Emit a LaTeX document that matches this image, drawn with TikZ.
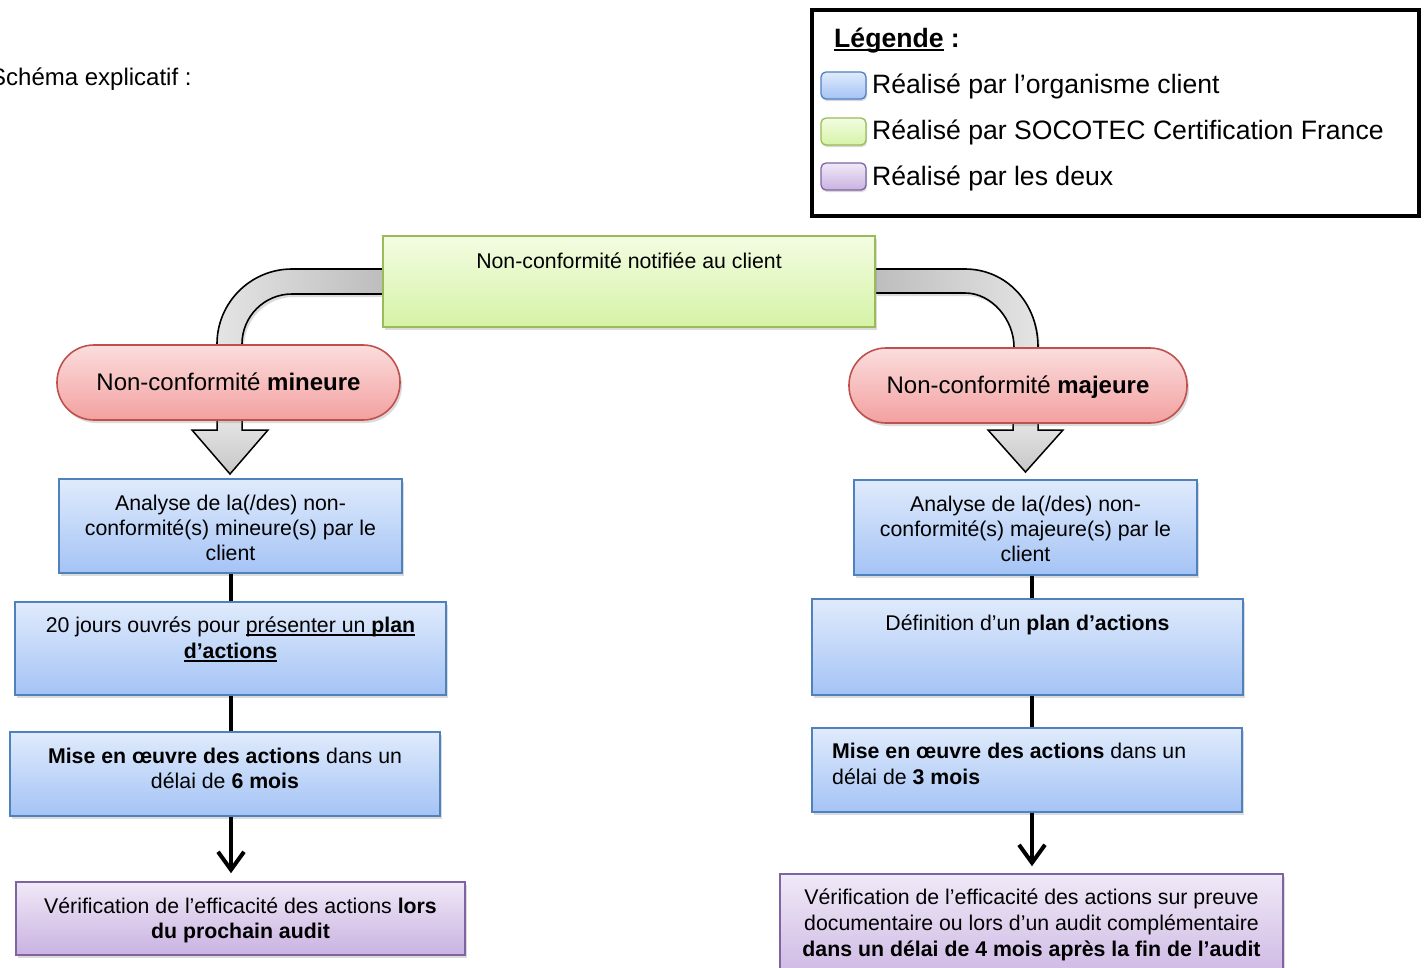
\documentclass[tikz,border=0pt]{standalone}
\usepackage{fontspec}
\setmainfont{Liberation Sans}
\newcommand{\myul}[1]{\begingroup\setbox0\hbox{#1}\rlap{\rule[-4pt]{\wd0}{1.7pt}}\box0\endgroup}
\usetikzlibrary{shadows,calc,arrows.meta}
\definecolor{blueline}{HTML}{4F81BD}
\definecolor{bluetop}{HTML}{E0EBFC}
\definecolor{bluebot}{HTML}{A4C3F5}
\definecolor{greenline}{HTML}{9BBB59}
\definecolor{greentop}{HTML}{F3FCE2}
\definecolor{greenbot}{HTML}{D5F3A6}
\definecolor{purpline}{HTML}{8064A2}
\definecolor{purptop}{HTML}{F0E9F7}
\definecolor{purpbot}{HTML}{C9B2E1}
\definecolor{redline}{HTML}{C0504D}
\definecolor{redtop}{HTML}{FBDDDD}
\definecolor{redbot}{HTML}{F3A0A0}
\definecolor{bandlight}{HTML}{E4E4E4}
\definecolor{banddark}{HTML}{BDBDBD}
\begin{document}
\begin{tikzpicture}[x=1pt,y=-1pt,
  shadowed/.style={drop shadow={shadow xshift=2pt,shadow yshift=-3pt,opacity=0.28}},
  boxbase/.style={draw, line width=1.6pt, inner sep=0, shadowed},
  bluebox/.style={boxbase, draw=blueline, top color=bluetop, bottom color=bluebot},
  greenbox/.style={boxbase, draw=greenline, top color=greentop, bottom color=greenbot},
  purpbox/.style={boxbase, draw=purpline, top color=purptop, bottom color=purpbot},
  redpill/.style={boxbase, draw=redline, top color=redtop, bottom color=redbot, rounded corners=37pt},
  swatch/.style={draw, line width=1.3pt, inner sep=0, rounded corners=5pt, minimum width=45pt, minimum height=27pt,
     drop shadow={shadow xshift=1pt,shadow yshift=-2pt,opacity=0.3}},
  txt/.style={inner sep=0, anchor=base, font=\fontsize{21.3}{25}\selectfont},
  bigtxt/.style={inner sep=0, anchor=base, font=\fontsize{24}{28}\selectfont},
  legtxt/.style={inner sep=0, anchor=base west, font=\fontsize{26.6}{31}\selectfont},
  band/.style={draw=black, line width=1.6pt, line join=round},
  hollow/.style={draw=black, line width=1.5pt, top color=white!92!black, bottom color=white!78!black},
  conn/.style={draw=black, line width=4pt},
  connarrow/.style={conn, -{Straight Barb[length=18pt,width=26pt]}}
]
\useasboundingbox (0,0) rectangle (1425,967);
\fill[white] (0,0) rectangle (1425,967);

% title
\node[inner sep=0, anchor=base west, font=\fontsize{24}{29}\selectfont] (title) at (-10,85) {Schéma explicatif :};

% legend
\node[draw=black, line width=4pt, inner sep=0, minimum width=607pt, minimum height=206pt,
      drop shadow={shadow xshift=1pt,shadow yshift=-2pt,opacity=0.5}] (legend) at (1115.5,113) {};
\fill[white] (814,12) rectangle (1417,214);
\node[inner sep=0, anchor=base west, font=\fontsize{26.6}{31}\selectfont\bfseries] (legtitle) at (834,47) {\myul{Légende} :};
\node[swatch, draw=blueline, top color=bluetop, bottom color=bluebot] (swb) at (843.5,85.5) {};
\node[swatch, draw=greenline, top color=greentop, bottom color=greenbot] (swg) at (843.5,131.5) {};
\node[swatch, draw=purpline, top color=purptop, bottom color=purpbot] (swp) at (843.5,176.5) {};
\node[legtxt] (lb) at (872,93) {Réalisé par l’organisme client};
\node[legtxt] (lg) at (872,139) {Réalisé par SOCOTEC Certification France};
\node[legtxt] (lp) at (872,185) {Réalisé par les deux};

% curved bands
\path[band, left color=bandlight, right color=banddark, shadowed]
  (383,269) -- (292,269) .. controls (250.6,269) and (217,302.6) .. (217,344)
  -- (217,360) -- (242,360) -- (242,344) .. controls (242,316.4) and (264.4,294) .. (292,294)
  -- (383,294) -- cycle;
\path[band, left color=banddark, right color=bandlight, shadowed]
  (875,269) -- (965,269) .. controls (1005.3,269) and (1038,301.7) .. (1038,347)
  -- (1038,362) -- (1014,362) -- (1014,347) .. controls (1014,320) and (992,293) .. (965,293)
  -- (875,293) -- cycle;

% hollow arrows
\path[hollow] (217,410) -- (217,430) -- (192,430) -- (230,474) -- (268,430) -- (242,430) -- (242,410);
\path[hollow] (1013,412) -- (1013,430) -- (988,430) -- (1025.5,472) -- (1063,430) -- (1038,430) -- (1038,412);

% top box
\node[greenbox, minimum width=492pt, minimum height=91pt] (G) at (629,281.5) {};
\node[txt] (Gt) at (629,268) {Non-conformité notifiée au client};

% pills
\node[redpill, minimum width=343pt, minimum height=75pt] (EL) at (228.5,382.5) {};
\node[bigtxt] (ELt) at (228.5,390) {Non-conformité \textbf{mineure}};
\node[redpill, minimum width=338pt, minimum height=75pt] (ER) at (1018,385.5) {};
\node[bigtxt] (ERt) at (1018,393) {Non-conformité \textbf{majeure}};

% column guide coordinates
\coordinate (lc) at (231,0);
\coordinate (rc) at (1032,0);

% left boxes
\node[bluebox, minimum width=343pt, minimum height=94pt] (L1) at (230.5,526) {};
\node[bluebox, minimum width=431pt, minimum height=93pt] (L2) at (230.5,648.5) {};
\node[bluebox, minimum width=430pt, minimum height=84pt] (L3) at (225,774) {};
\node[purpbox, minimum width=449pt, minimum height=73pt] (L4) at (240.5,918.5) {};

% right boxes
\node[bluebox, minimum width=343pt, minimum height=95pt] (R1) at (1025.5,527.5) {};
\node[bluebox, minimum width=431pt, minimum height=96pt] (R2) at (1027.5,647) {};
\node[bluebox, minimum width=430pt, minimum height=84pt] (R3) at (1027,770) {};
\node[purpbox, minimum width=503pt, minimum height=116pt] (R4) at (1031.5,932) {};

% connectors
\draw[conn] (L1.south -| lc) -- (L2.north -| lc);
\draw[conn] (L2.south -| lc) -- (L3.north -| lc);
\draw[connarrow, shorten >=8pt] (L3.south -| lc) -- (L4.north -| lc);
\draw[conn] (R1.south -| rc) -- (R2.north -| rc);
\draw[conn] (R2.south -| rc) -- (R3.north -| rc);
\draw[connarrow, shorten >=7pt] (R3.south -| rc) -- (R4.north -| rc);

% left texts
\node[txt] (L1a) at (230.5,510) {Analyse de la(/des) non-};
\node[txt] (L1b) at (230.5,535) {conformité(s) mineure(s) par le};
\node[txt] (L1c) at (230.5,560) {client};
\node[txt] (L2a) at (230.5,632) {20 jours ouvrés pour \myul{présenter un \textbf{plan}}};
\node[txt] (L2b) at (230.5,658) {\myul{\textbf{d’actions}}};
\node[txt] (L3a) at (225,763) {\textbf{Mise en œuvre des actions} dans un};
\node[txt] (L3b) at (225,788) {délai de \textbf{6 mois}};
\node[txt] (L4a) at (240.5,913) {Vérification de l’efficacité des actions \textbf{lors}};
\node[txt] (L4b) at (240.5,938) {\textbf{du prochain audit}};

% right texts
\node[txt] (R1a) at (1025.5,511) {Analyse de la(/des) non-};
\node[txt] (R1b) at (1025.5,536) {conformité(s) majeure(s) par le};
\node[txt] (R1c) at (1025.5,561) {client};
\node[txt] (R2a) at (1027.5,630) {Définition d’un \textbf{plan d’actions}};
\node[txt, anchor=base west] (R3a) at (832,758) {\textbf{Mise en œuvre des actions} dans un};
\node[txt, anchor=base west] (R3b) at (832,784) {délai de \textbf{3 mois}};
\node[txt] (R4a) at (1031.5,904) {Vérification de l’efficacité des actions sur preuve};
\node[txt] (R4b) at (1031.5,930) {documentaire ou lors d’un audit complémentaire};
\node[txt] (R4c) at (1031.5,956) {\textbf{dans un délai de 4 mois après la fin de l’audit}};
\end{tikzpicture}
\end{document}
